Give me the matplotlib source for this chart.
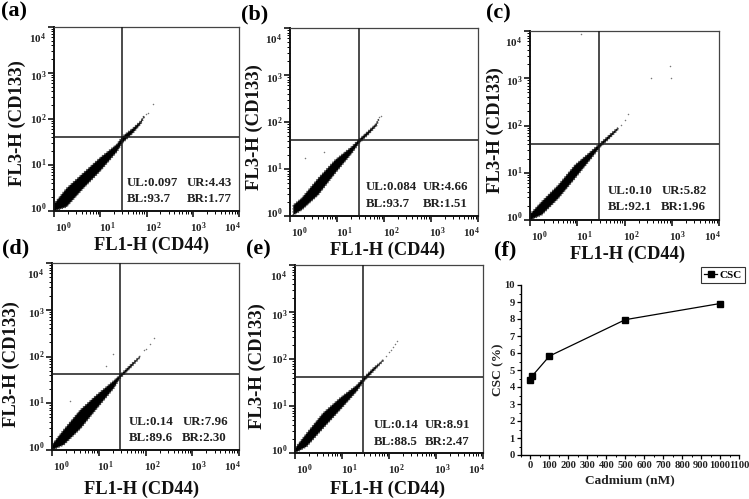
import matplotlib
matplotlib.use("Agg")
import matplotlib.pyplot as plt
from matplotlib.ticker import LogLocator, NullFormatter, MultipleLocator
from matplotlib.transforms import ScaledTranslation

W, H = 749, 499
plt.rcParams.update({
    'font.family': ['Liberation Serif', 'DejaVu Serif'],
    'font.weight': 'bold',
    'mathtext.fontset': 'custom',
    'mathtext.rm': 'Liberation Serif:bold',
    'mathtext.bf': 'Liberation Serif:bold',
    'mathtext.it': 'Liberation Serif:bold',
    'mathtext.default': 'bf',
})

# Data: values are log10 decades
band_a_x = [0.0, 0.27, 0.63, 0.99, 1.36, 1.48, 1.71, 1.88, 1.95]
band_a_lo = [0.0, 0.09, 0.49, 0.86, 1.29, 1.48, 1.70, 1.90, 2.05]
band_a_hi = [0.15, 0.49, 0.82, 1.15, 1.45, 1.62, 1.80, 1.96, 2.07]
band_b_x = [0.07, 0.25, 0.60, 0.96, 1.31, 1.47, 1.67, 1.84, 1.88]
band_b_lo = [0.02, 0.13, 0.45, 0.91, 1.33, 1.55, 1.74, 1.92, 2.03]
band_b_hi = [0.23, 0.38, 0.80, 1.19, 1.47, 1.63, 1.81, 1.97, 2.05]
band_c_x = [0.0, 0.25, 0.60, 0.95, 1.30, 1.48, 1.66, 1.83, 1.87]
band_c_lo = [0.0, 0.11, 0.46, 0.88, 1.31, 1.54, 1.71, 1.88, 1.93]
band_c_hi = [0.12, 0.39, 0.74, 1.16, 1.46, 1.62, 1.78, 1.93, 1.95]
band_d_x = [0.0, 0.25, 0.61, 0.96, 1.32, 1.45, 1.68, 1.82, 1.88]
band_d_lo = [0.0, 0.11, 0.46, 0.89, 1.32, 1.53, 1.76, 1.91, 1.98]
band_d_hi = [0.11, 0.43, 0.86, 1.18, 1.48, 1.60, 1.82, 1.95, 2.0]
band_e_x = [0.0, 0.25, 0.60, 0.96, 1.31, 1.47, 1.67, 1.82, 1.88]
band_e_lo = [0.0, 0.14, 0.53, 0.92, 1.31, 1.53, 1.74, 1.90, 1.97]
band_e_hi = [0.10, 0.42, 0.85, 1.17, 1.44, 1.61, 1.81, 1.93, 1.99]

stray_a_x = [2.15, 1.99, 2.03]
stray_a_y = [2.33, 2.1, 2.13]
stray_b_x = [0.32, 0.73, 1.9, 1.93]
stray_b_y = [1.23, 1.37, 2.1, 2.13]
stray_c_x = [1.07, 2.57, 2.96, 2.98, 2.08, 1.93, 2.0]
stray_c_y = [3.94, 3.01, 3.25, 3.0, 2.25, 2.02, 2.12]
stray_d_x = [1.96, 2.19, 2.09, 1.3, 1.15, 0.38, 2.02]
stray_d_y = [2.13, 2.4, 2.27, 2.05, 1.79, 1.04, 2.17]
stray_e_x = [1.99, 2.18, 2.09, 1.93, 2.13, 2.04]
stray_e_y = [2.14, 2.39, 2.25, 2.07, 2.32, 2.2]

gate_x = [1.477, 1.47, 1.46, 1.455, 1.45]
gate_y = [1.61, 1.62, 1.61, 1.63, 1.62]

flow_ticks = [1, 10, 100, 1000, 10000]
flow_tick_labels = ['$10^{0}$', '$10^{1}$', '$10^{2}$', '$10^{3}$', '$10^{4}$']

stats_line1 = [('UL:0.097', 'UR:4.43'), ('UL:0.084', 'UR:4.66'), ('UL:0.10', 'UR:5.82'),
               ('UL:0.14', 'UR:7.96'), ('UL:0.14', 'UR:8.91')]
stats_line2 = [('BL:93.7', 'BR:1.77'), ('BL:93.7', 'BR:1.51'), ('BL:92.1', 'BR:1.96'),
               ('BL:89.6', 'BR:2.30'), ('BL:88.5', 'BR:2.47')]

cadmium = [0, 10, 100, 500, 1000]
csc = [4.43, 4.66, 5.82, 7.96, 8.91]
panel_letters = ['(a)', '(b)', '(c)', '(d)', '(e)', '(f)']

# Layout in pixels
boxes = [(54, 27, 239, 211), (290, 28, 478, 216), (530, 31, 719, 220),
         (52, 263, 239, 450), (295, 265, 483, 453)]
xlabel_pos = [(151, 245), (387, 250), (628, 254), (141, 489), (387, 489)]
ylabel_pos = [(17, 123), (254, 127), (495, 130), (11, 364), (257, 366)]
stat_pos = [((127, 183), (187, 183), (127, 199), (187, 199)),
            ((366, 187), (423, 187), (366, 204), (423, 204)),
            ((608, 191), (662, 191), (608, 207), (661, 207)),
            ((129, 422), (183, 422), (129, 438), (182, 438)),
            ((374, 425), (425, 425), (374, 442), (425, 442))]
letter_pos = [(1, 11), (241, 14), (486, 13), (2, 248), (246, 249), (494, 250)]

x_off = [9, 7, 7, 6, -7]
y_off = [4, 2, 1, -2, -10]


def fx(px):
    return px / W


def fy(py):
    return 1 - py / H


fig = plt.figure(figsize=(W / 100, H / 100), dpi=100, facecolor='white')


def ftext(px, py, s, **kw):
    kw.setdefault('va', 'center')
    kw.setdefault('ha', 'left')
    return fig.text(fx(px), fy(py), s, **kw)


bands = [(band_a_x, band_a_lo, band_a_hi), (band_b_x, band_b_lo, band_b_hi),
         (band_c_x, band_c_lo, band_c_hi), (band_d_x, band_d_lo, band_d_hi),
         (band_e_x, band_e_lo, band_e_hi)]
strays = [(stray_a_x, stray_a_y), (stray_b_x, stray_b_y), (stray_c_x, stray_c_y),
          (stray_d_x, stray_d_y), (stray_e_x, stray_e_y)]

for i, box in enumerate(boxes):
    l, t, r, b = box
    ax = fig.add_axes([fx(l), fy(b), (r - l) / W, (b - t) / H])
    ax.set_xscale('log')
    ax.set_yscale('log')
    ax.set_xlim(1, 10000)
    ax.set_ylim(1, 10000)
    bx, blo, bhi = bands[i]
    ax.fill_between([10 ** v for v in bx], [10 ** v for v in blo], [10 ** v for v in bhi],
                    facecolor='black', edgecolor='#444444', linewidth=1.2,
                    linestyle=(0, (0.8, 1.0)), zorder=2)
    sx, sy = strays[i]
    ax.scatter([10 ** v for v in sx], [10 ** v for v in sy], s=1.2, c='#777777',
               linewidths=0, zorder=2)
    ax.axvline(10 ** gate_x[i], color='#1a1a1a', lw=1.1, zorder=3)
    ax.axhline(10 ** gate_y[i], color='#1a1a1a', lw=1.1, zorder=3)
    for name, sp in ax.spines.items():
        sp.set_linewidth(1.4 if name in ('left', 'bottom') else 0.9)
        sp.set_color('#111111' if name in ('left', 'bottom') else '#444444')
    ax.set_xticks(flow_ticks, flow_tick_labels)
    ax.set_yticks(flow_ticks, flow_tick_labels)
    for axis in (ax.xaxis, ax.yaxis):
        axis.set_minor_locator(LogLocator(base=10, subs=range(2, 10), numticks=10))
        axis.set_minor_formatter(NullFormatter())
    ax.tick_params(axis='both', which='major', length=4, width=1.1, labelsize=8,
                   labelcolor='#222222', pad=1.5)
    ax.tick_params(axis='both', which='minor', length=2, width=0.7)
    ax.tick_params(axis='x', which='major', pad=3)
    for lab, dx in zip(ax.get_xticklabels(), x_off):
        lab.set_transform(lab.get_transform() + ScaledTranslation(dx / 100, 0, fig.dpi_scale_trans))
    for lab, dy in zip(ax.get_yticklabels(), y_off):
        lab.set_transform(lab.get_transform() + ScaledTranslation(0, dy / 100, fig.dpi_scale_trans))
    xp, yp = xlabel_pos[i]
    ftext(xp, yp, 'FL1-H (CD44)', ha='center', fontsize=13.2, color='#111111')
    xp, yp = ylabel_pos[i]
    ftext(xp, yp, 'FL3-H (CD133)', ha='center', rotation=90, fontsize=13.4, color='#111111')
    pos = stat_pos[i]
    for (px, py), s in zip(pos, (*stats_line1[i], *stats_line2[i])):
        ftext(px, py, s, fontsize=9.3, color='#222222')

for (px, py), s in zip(letter_pos, panel_letters):
    ftext(px, py, s, fontsize=16, color='black')

# Panel f
axf = fig.add_axes([fx(521), fy(455), (739 - 521) / W, (455 - 285) / H])
axf.plot(cadmium, csc, '-s', color='black', lw=0.9, ms=4.6, label='CSC', clip_on=False)
axf.set_xlim(-50, 1100)
axf.set_ylim(0, 10)
axf.spines['top'].set_visible(False)
axf.spines['right'].set_visible(False)
axf.spines['left'].set_linewidth(1.0)
axf.spines['bottom'].set_linewidth(1.0)
axf.set_xticks(range(0, 1101, 100))
axf.set_yticks(range(0, 11))
axf.xaxis.set_minor_locator(MultipleLocator(50))
axf.yaxis.set_minor_locator(MultipleLocator(0.5))
axf.tick_params(which='major', length=3, width=0.9, labelsize=7.6, pad=1.5, labelcolor='#222222')
axf.tick_params(which='minor', length=1.6, width=0.7)
ftext(630, 480, 'Cadmium (nM)', ha='center', fontsize=9.6, color='#222222')
ftext(498, 370, 'CSC (%)', ha='center', rotation=90, fontsize=9.6, color='#222222')
leg = axf.legend(loc='upper left', bbox_to_anchor=(fx(700.5), fy(266.5)),
                 bbox_transform=fig.transFigure, fontsize=8, frameon=True, fancybox=False,
                 edgecolor='#333333', framealpha=1, borderpad=0.3, handlelength=1.2,
                 handletextpad=0.2, borderaxespad=0, markerscale=0.85)
leg.get_frame().set_linewidth(0.8)
leg.set_clip_on(False)

fig.savefig('out.png', dpi=100)
